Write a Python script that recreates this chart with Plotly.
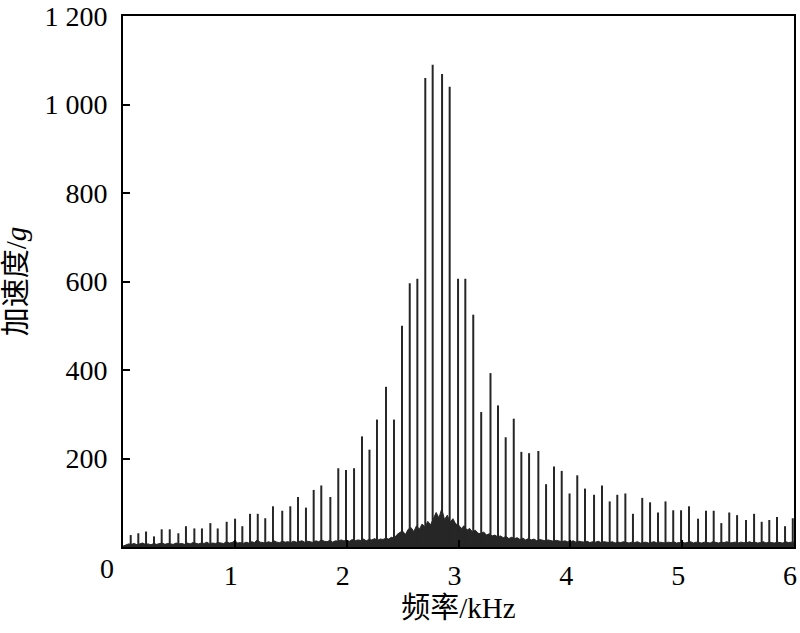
import numpy as np
import plotly.graph_objects as go

# Harmonic peaks: frequency (kHz) and amplitude (g)
peak_freq = [0.069, 0.137, 0.206, 0.277, 0.346, 0.418, 0.495, 0.563, 0.638, 0.706,
             0.781, 0.847, 0.927, 1.002, 1.067, 1.136, 1.205, 1.272, 1.341, 1.424,
             1.496, 1.565, 1.636, 1.705, 1.773, 1.854, 1.925, 1.994, 2.066, 2.137,
             2.204, 2.271, 2.352, 2.423, 2.495, 2.564, 2.632, 2.703, 2.769, 2.853,
             2.921, 2.996, 3.061, 3.132, 3.203, 3.286, 3.353, 3.422, 3.494, 3.562,
             3.631, 3.714, 3.783, 3.854, 3.923, 3.993, 4.062, 4.131, 4.212, 4.283,
             4.352, 4.420, 4.492, 4.560, 4.643, 4.713, 4.784, 4.851, 4.920, 4.990,
             5.061, 5.142, 5.213, 5.282, 5.350, 5.421, 5.491, 5.571, 5.643, 5.711,
             5.779, 5.848, 5.920, 5.989]
peak_amp = [27, 31, 35, 24, 40, 40, 31, 47, 42, 42,
            54, 42, 57, 64, 47, 75, 75, 65, 92, 82,
            92, 113, 89, 129, 139, 113, 178, 174, 178, 250,
            220, 288, 362, 288, 500, 596, 606, 1060, 1090, 1069,
            1040, 606, 606, 525, 305, 393, 320, 248, 290, 215,
            212, 217, 142, 182, 172, 121, 162, 132, 118, 139,
            103, 118, 121, 75, 111, 101, 78, 103, 83, 83,
            92, 64, 82, 82, 54, 78, 72, 61, 75, 57,
            61, 68, 47, 65]

# Broadband noise floor (g), every 0.025 kHz from 0 to 6 kHz
noise_amp = [
    2, 5, 7, 6, 8, 5, 7, 9, 6, 7, 5, 8, 6, 7, 9, 6, 8, 7, 6, 9,
    7, 8, 6, 9, 7, 10, 8, 7, 9, 8, 11, 7, 9, 8, 10, 9, 8, 12, 9, 10,
    14, 9, 10, 8, 11, 9, 12, 10, 16, 11, 10, 9, 12, 10, 14, 11, 10, 13, 11, 12,
    10, 13, 11, 12, 14, 11, 13, 12, 10, 14, 12, 16, 13, 12, 15, 11, 14, 13, 16, 14,
    15, 13, 17, 14, 16, 15, 18, 14, 17, 16, 19, 15, 18, 17, 20, 18, 22, 20, 28, 33,
    36, 28, 40, 44, 35, 48, 40, 52, 45, 58, 50, 64, 78, 66, 86, 62, 72, 56, 64, 52,
    50, 42, 48, 38, 42, 34, 38, 31, 30, 34, 27, 30, 25, 27, 23, 25, 21, 24, 19, 22,
    19, 21, 17, 20, 16, 19, 16, 18, 14, 17, 15, 14, 16, 14, 13, 15, 13, 12, 14, 12,
    12, 14, 11, 13, 12, 11, 13, 10, 12, 11, 13, 10, 12, 11, 10, 12, 9, 11, 10, 12,
    10, 9, 11, 10, 12, 9, 10, 11, 9, 10, 12, 9, 11, 10, 9, 11, 10, 12, 9, 10,
    11, 9, 10, 12, 9, 11, 10, 9, 11, 10, 9, 12, 10, 9, 11, 10, 12, 9, 10, 11,
    9, 11, 10, 9, 12, 10, 11, 9, 10, 12, 9, 11, 10, 9, 11, 10, 9, 12, 10, 11,
    10]
noise_freq = np.linspace(0, 6, len(noise_amp))

x_tickvals = [0, 1, 2, 3, 4, 5, 6]
x_ticktext = ["", "1", "2", "3", "4", "5", "6"]
y_tickvals = [0, 200, 400, 600, 800, 1000, 1200]
y_ticktext = ["", "200", "400", "600", "800", "1 000", "1 200"]

LINE = "#262626"
NUM_FONT = "Liberation Serif, Times New Roman, serif"
TITLE_FONT = "Liberation Serif, Noto Sans CJK SC, serif"
NUM_SIZE = 28

# spikes as vertical segments
sx, sy = [], []
for f, a in zip(peak_freq, peak_amp):
    sx += [f, f, None]
    sy += [0, a, None]

fig = go.Figure()
fig.add_trace(go.Scatter(x=noise_freq, y=noise_amp, mode="lines",
                         line=dict(color=LINE, width=1), fill="tozeroy",
                         fillcolor=LINE, hoverinfo="skip", showlegend=False))
fig.add_trace(go.Scatter(x=sx, y=sy, mode="lines",
                         line=dict(color=LINE, width=2), showlegend=False))

fig.add_annotation(x=0, y=0, xref="x", yref="y", text="0", showarrow=False,
                   xshift=-16, yshift=-21, font=dict(family=NUM_FONT, size=NUM_SIZE, color="black"))

axis_common = dict(showline=True, linecolor="black", linewidth=2, mirror=True,
                   ticks="inside", ticklen=7, tickwidth=2, tickcolor="black",
                   showgrid=False, zeroline=False, automargin=False,
                   ticklabeloverflow="allow",
                   tickfont=dict(family=NUM_FONT, size=NUM_SIZE, color="black"))

fig.update_layout(
    width=800, height=633,
    margin=dict(l=123, r=6, t=16, b=86, autoexpand=False),
    paper_bgcolor="white", plot_bgcolor="white",
    xaxis=dict(range=[0, 6], tickmode="array", tickvals=x_tickvals, ticktext=x_ticktext,
               ticklabelshift=-4, ticklabelstandoff=2,
               title=dict(text="频率/kHz", font=dict(family=TITLE_FONT, size=29, color="black"),
                          standoff=8),
               **axis_common),
    yaxis=dict(range=[0, 1200], tickmode="array", tickvals=y_tickvals, ticktext=y_ticktext,
               ticklabelstandoff=8,
               title=dict(text="加速度/<i>g</i>", font=dict(family=TITLE_FONT, size=29, color="black"),
                          standoff=14),
               **axis_common),
)

fig.write_html("out.html", config={"displayModeBar": False},
               post_script="document.body.style.margin='0';")
